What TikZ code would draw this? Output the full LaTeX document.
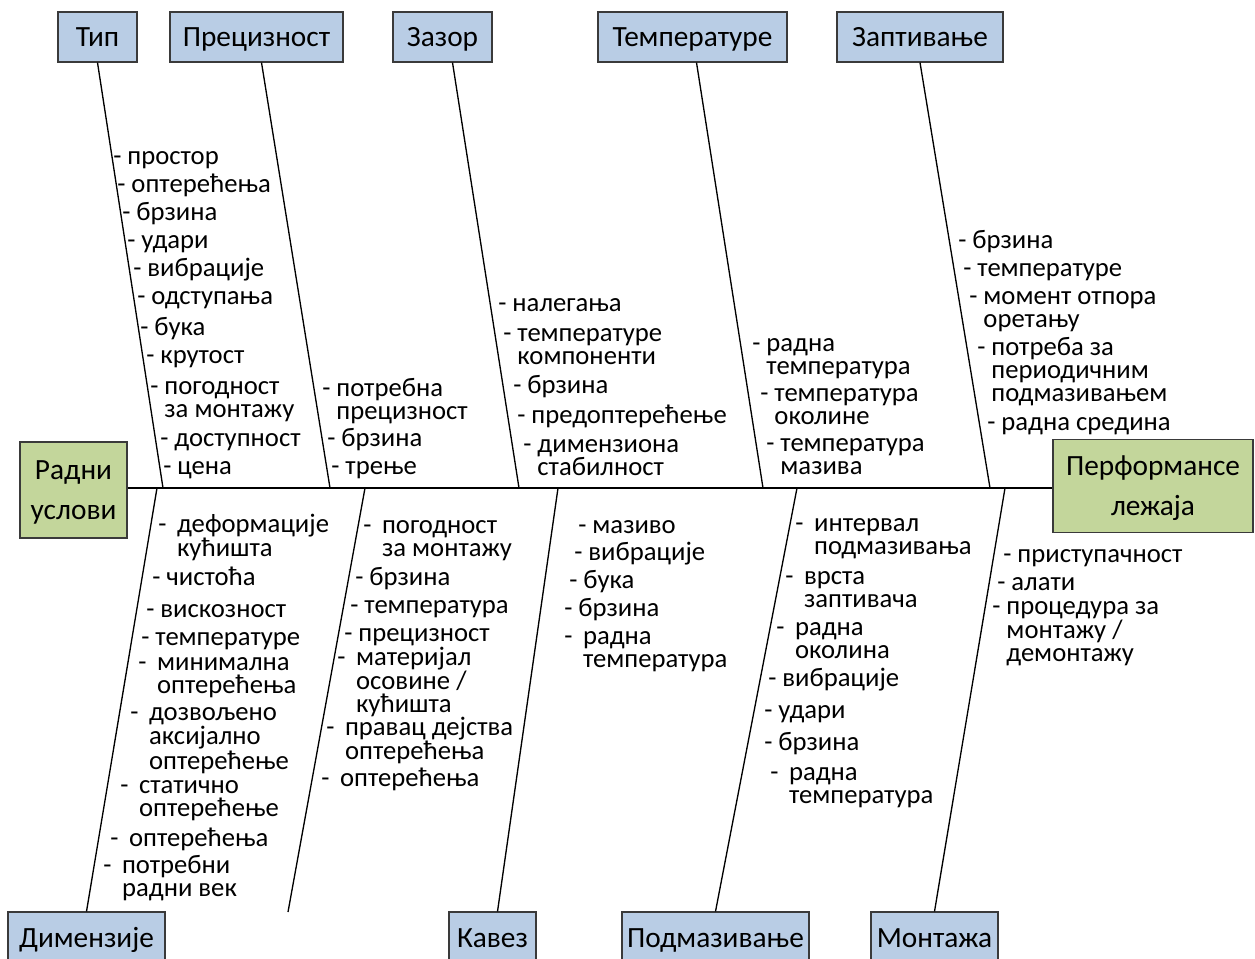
\documentclass[tikz,border=0pt]{standalone}
\usepackage{fontspec}
\setmainfont{Carlito}
\usetikzlibrary{positioning,calc}

\definecolor{boxblue}{HTML}{B9CDE5}
\definecolor{boxgreen}{HTML}{C3D69B}
\definecolor{boxline}{HTML}{3A3A3A}

\newcommand{\ribfont}{\fontsize{20}{16.9}\selectfont}
\newcommand{\boxfont}{\fontsize{22}{30}\selectfont}
\newcommand{\dashw}{-\hspace{.4em}}
\newcommand{\indw}{\hphantom{-}\hspace{.4em}}
\newcommand{\indn}{\hphantom{- }}

\begin{document}
\begin{tikzpicture}[x=0.75pt,y=-0.75pt,
    boxbase/.style={draw=boxline, line width=0.8pt, font=\boxfont,
                inner sep=0pt, align=center},
    box/.style={boxbase, fill=boxblue, minimum height=37.5pt,
                text height=17pt, text depth=2pt},
    effect/.style={boxbase, fill=boxgreen, text depth=-4.5pt},
    cause/.style={anchor=base west, inner sep=0pt, align=left, font=\ribfont},
    rib/.style={line width=1pt}]

    \useasboundingbox (0,0) rectangle (1255,959);

    %
    \node[box, minimum width=59.25pt]  (tip)     at (97.5,37)  {Тип};
    \node[box, minimum width=129.75pt] (precizn) at (256.5,37) {Прецизност};
    \node[box, minimum width=74.25pt]  (zazor)   at (442.5,37) {Зазор};
    \node[box, minimum width=141.75pt] (temp)    at (692.5,37) {Температуре};
    \node[box, minimum width=124.5pt]  (zapt)    at (920,37)   {Заптивање};

    %
    \node[box, minimum width=117.75pt] (dimenz)  at (86.5,937)  {Димензије};
    \node[box, minimum width=65.25pt]  (kavez)   at (492.5,937) {Кавез};
    \node[box, minimum width=140.25pt] (podmaz)  at (715.5,937) {Подмазивање};
    \node[box, minimum width=95.25pt]  (montaza) at (934.5,937) {Монтажа};

    %
    \node[effect, minimum width=80.25pt, minimum height=72pt] (radni) at (73.5,490) {Радни\\услови};
    \node[effect, minimum width=150pt, minimum height=69.75pt] (perf) at (1153,486) {Перформансе\\лежаја};

    %
    \coordinate (sp) at (0,488);
    \draw[rib] (radni.east |- sp) -- (perf.west |- sp);

    %
    \coordinate (tipS)  at (163,488);
    \coordinate (precS) at (330,488);
    \coordinate (zazS)  at (519,488);
    \coordinate (tempS) at (763,488);
    \coordinate (zapS)  at (990,488);
    \draw[rib] (tip.south) -- (tipS);
    \draw[rib] ($(precizn.south)+(5,0)$) -- (precS);
    \draw[rib] ($(zazor.south)+(10,0)$) -- (zazS);
    \draw[rib] ($(temp.south)+(4,0)$) -- (tempS);
    \draw[rib] (zapt.south) -- (zapS);

    %
    \coordinate (dimS)  at (157,488);
    \coordinate (anonS) at (365,488);
    \coordinate (anonE) at (288,912);
    \coordinate (kavS)  at (558,488);
    \coordinate (podS)  at (797,488);
    \coordinate (monS)  at (1005,488);
    \draw[rib] (dimS) -- (dimenz.north);
    \draw[rib] (anonS) -- (anonE);
    \draw[rib] (kavS) -- ($(kavez.north)+(5,0)$);
    \draw[rib] (podS) -- (podmaz.north);
    \draw[rib] (monS) -- (montaza.north);

    %
    \node[cause] (t1)  at (113,165) {- простор};
    \node[cause] (t2)  at (117,193) {- оптерећења};
    \node[cause] (t3)  at (122,221) {- брзина};
    \node[cause] (t4)  at (127,248) {- удари};
    \node[cause] (t5)  at (133,276) {- вибрације};
    \node[cause] (t6)  at (137,304) {- одступања};
    \node[cause] (t7)  at (140,335) {- бука};
    \node[cause] (t8)  at (146,363) {- крутост};
    \node[cause] (t9)  at (150,417.5) {- погодност\\\indn за монтажу};
    \node[cause] (t10) at (160,446) {- доступност};
    \node[cause] (t11) at (163,474) {- цена};

    \node[cause] (p1) at (322,419.5) {- потребна\\\indn прецизност};
    \node[cause] (p2) at (327,446) {- брзина};
    \node[cause] (p3) at (331,474) {- трење};

    \node[cause] (z1) at (498,311) {- налегања};
    \node[cause] (z2) at (503,364.5) {- температуре\\\indn компоненти};
    \node[cause] (z3) at (513,393) {- брзина};
    \node[cause] (z4) at (517,423) {- предоптерећење};
    \node[cause] (z5) at (523,475.5) {- димензиона\\\indn стабилност};

    \node[cause] (m1) at (752,374.5) {- радна\\\indn температура};
    \node[cause] (m2) at (760,424.5) {- температура\\\indn околине};
    \node[cause] (m3) at (766,474.5) {- температура\\\indn мазива};

    \node[cause] (s1) at (958,248) {- брзина};
    \node[cause] (s2) at (963,276) {- температуре};
    \node[cause] (s3) at (969,327.5) {- момент отпора\\\indn оретању};
    \node[cause] (s4) at (977,401) {- потреба за\\\indn периодичним\\\indn подмазивањем};
    \node[cause] (s5) at (987,430) {- радна средина};

    %
    \node[cause] (d1) at (158,556.5) {\dashw деформације\\\indw кућишта};
    \node[cause] (d2) at (152,585) {- чистоћа};
    \node[cause] (d3) at (146,617) {- вискозност};
    \node[cause] (d4) at (141,645) {- температуре};
    \node[cause] (d5) at (138,693.5) {\dashw минимална\\\indw оптерећења};
    \node[cause] (d6) at (130,769) {\dashw дозвољено\\\indw аксијално\\\indw оптерећење};
    \node[cause] (d7) at (120,816.5) {\dashw статично\\\indw оптерећење};
    \node[cause] (d8) at (110,846) {\dashw оптерећења};
    \node[cause] (d9) at (103,896.5) {\dashw потребни\\\indw радни век};

    \node[cause] (e1) at (363,556.5) {\dashw погодност\\\indw за монтажу};
    \node[cause] (e2) at (355,585) {- брзина};
    \node[cause] (e3) at (350,613) {- температура};
    \node[cause] (e4) at (344,641) {- прецизност};
    \node[cause] (e5) at (337,712) {\dashw материјал\\\indw осовине /\\\indw кућишта};
    \node[cause] (e6) at (326,759.5) {\dashw правац дејства\\\indw оптерећења};
    \node[cause] (e7) at (321,786) {\dashw оптерећења};

    \node[cause] (k1) at (578,533) {- мазиво};
    \node[cause] (k2) at (574,560) {- вибрације};
    \node[cause] (k3) at (569,588) {- бука};
    \node[cause] (k4) at (564,616) {- брзина};
    \node[cause] (k5) at (564,667.5) {\dashw радна\\\indw температура};

    \node[cause] (l1) at (795,554.5) {\dashw интервал\\\indw подмазивања};
    \node[cause] (l2) at (785,607.5) {\dashw врста\\\indw заптивача};
    \node[cause] (l3) at (776,658.5) {\dashw радна\\\indw околина};
    \node[cause] (l4) at (768,686) {- вибрације};
    \node[cause] (l5) at (764,718) {- удари};
    \node[cause] (l6) at (764,750) {- брзина};
    \node[cause] (l7) at (770,803.5) {\dashw радна\\\indw температура};

    \node[cause] (n1) at (1003,562) {- приступачност};
    \node[cause] (n2) at (997,590)  {- алати};
    \node[cause] (n3) at (992,661)  {- процедура за\\\indn монтажу /\\\indn демонтажу};

\end{tikzpicture}
\end{document}
